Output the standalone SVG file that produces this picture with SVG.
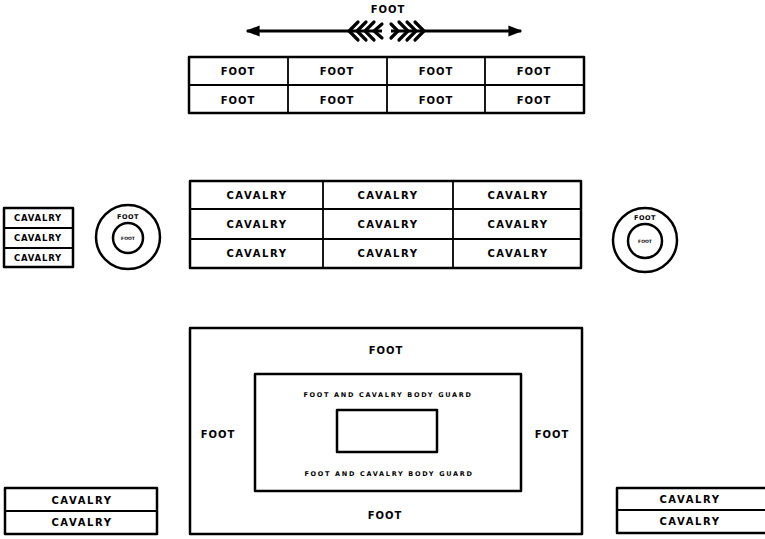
<svg xmlns="http://www.w3.org/2000/svg" width="765" height="539" viewBox="0 0 765 539">
<defs>
<style>
.b{fill:none;stroke:#000;stroke-width:2.5;stroke-linejoin:round}
.d{fill:none;stroke:#000;stroke-width:1.8}
text{font-family:"DejaVu Sans","Liberation Sans",sans-serif;font-weight:bold;fill:#000;text-anchor:middle;dominant-baseline:central}
.f{font-size:10px;letter-spacing:1px}
.c{font-size:10px;letter-spacing:1.6px}
.s{font-size:8.5px;letter-spacing:0.8px}
.g{font-size:6.5px;letter-spacing:1.7px}
.t{font-size:6.5px;letter-spacing:0.5px}
.u{font-size:4.5px}
.ch{fill:none;stroke:#000;stroke-width:3.2;stroke-linecap:round}
.ar{stroke:#000;stroke-width:2.8}
</style>
<marker id="ah" viewBox="0 0 10 10" refX="9" refY="5" markerWidth="5" markerHeight="5" orient="auto-start-reverse" markerUnits="strokeWidth">
<path d="M0,1 L10,5 L0,9 Z" fill="#000"/>
</marker>
</defs>
<rect width="765" height="539" fill="#fff"/>

<g id="connectors">
<line class="ar" x1="247" y1="31" x2="382" y2="31" marker-start="url(#ah)"/>
<line class="ar" x1="391" y1="31" x2="521" y2="31" marker-end="url(#ah)"/>
<g id="chevrons-left">
<path class="ch" d="M358,22 L349,31 L358,40"/>
<path class="ch" d="M366,22 L357,31 L366,40"/>
<path class="ch" d="M374,22 L365,31 L374,40"/>
<path class="ch" d="M382,24 L374,31 L382,38"/>
</g>
<g id="chevrons-right">
<path class="ch" d="M391,24 L398,31 L391,38"/>
<path class="ch" d="M399,22 L408,31 L399,40"/>
<path class="ch" d="M407,22 L416,31 L407,40"/>
<path class="ch" d="M415,22 L424,31 L415,40"/>
</g>
</g>
<text id="top-label" class="f" x="388" y="9">FOOT</text>

<g id="foot-grid">
<rect class="b" x="189" y="57" width="395" height="56"/>
<line class="d" x1="189" y1="85" x2="584" y2="85"/>
<line class="d" x1="288" y1="57" x2="288" y2="113"/>
<line class="d" x1="387" y1="57" x2="387" y2="113"/>
<line class="d" x1="485" y1="57" x2="485" y2="113"/>
<text class="f" x="238" y="71">FOOT</text>
<text class="f" x="337" y="71">FOOT</text>
<text class="f" x="436" y="71">FOOT</text>
<text class="f" x="534" y="71">FOOT</text>
<text class="f" x="238" y="100">FOOT</text>
<text class="f" x="337" y="100">FOOT</text>
<text class="f" x="436" y="100">FOOT</text>
<text class="f" x="534" y="100">FOOT</text>
</g>

<g id="cavalry-grid">
<rect class="b" x="190" y="181" width="391" height="87"/>
<line class="d" x1="190" y1="209" x2="581" y2="209"/>
<line class="d" x1="190" y1="239" x2="581" y2="239"/>
<line class="d" x1="323" y1="181" x2="323" y2="268"/>
<line class="d" x1="453" y1="181" x2="453" y2="268"/>
<text class="c" x="257" y="195">CAVALRY</text>
<text class="c" x="388" y="195">CAVALRY</text>
<text class="c" x="518" y="195">CAVALRY</text>
<text class="c" x="257" y="224">CAVALRY</text>
<text class="c" x="388" y="224">CAVALRY</text>
<text class="c" x="518" y="224">CAVALRY</text>
<text class="c" x="257" y="253">CAVALRY</text>
<text class="c" x="388" y="253">CAVALRY</text>
<text class="c" x="518" y="253">CAVALRY</text>
</g>

<g id="left-cavalry-stack">
<rect class="b" x="4" y="208" width="69" height="59"/>
<line class="d" x1="4" y1="228" x2="73" y2="228"/>
<line class="d" x1="4" y1="248" x2="73" y2="248"/>
<text class="s" x="38" y="218">CAVALRY</text>
<text class="s" x="38" y="238">CAVALRY</text>
<text class="s" x="38" y="258">CAVALRY</text>
</g>

<g id="left-circle">
<circle class="b" cx="128" cy="237" r="32"/>
<circle class="b" cx="128" cy="238" r="15"/>
<text class="t" x="128" y="217">FOOT</text>
<text class="u" x="128" y="238">FOOT</text>
</g>

<g id="right-circle">
<circle class="b" cx="645" cy="240" r="32"/>
<circle class="b" cx="645" cy="241" r="17"/>
<text class="t" x="645" y="218">FOOT</text>
<text class="u" x="645" y="241">FOOT</text>
</g>

<g id="camp">
<rect class="b" x="190" y="328" width="392" height="206"/>
<text class="f" x="386" y="350">FOOT</text>
<text class="f" x="218" y="434">FOOT</text>
<text class="f" x="552" y="434">FOOT</text>
<text class="f" x="385" y="515">FOOT</text>
</g>

<g id="body-guard">
<rect class="b" x="255" y="374" width="266" height="117"/>
<text class="g" x="388" y="395">FOOT AND CAVALRY BODY GUARD</text>
<text class="g" x="389" y="474">FOOT AND CAVALRY BODY GUARD</text>
</g>

<g id="center">
<rect class="b" x="337" y="410" width="100" height="42"/>
</g>

<g id="bottom-left-cavalry">
<rect class="b" x="5" y="488" width="152" height="46"/>
<line class="d" x1="5" y1="511" x2="157" y2="511"/>
<text class="c" x="82" y="500">CAVALRY</text>
<text class="c" x="82" y="522">CAVALRY</text>
</g>

<g id="bottom-right-cavalry">
<path class="b" d="M770,488 L617,488 L617,533 L770,533"/>
<line class="d" x1="617" y1="510" x2="770" y2="510"/>
<text class="c" x="690" y="499">CAVALRY</text>
<text class="c" x="690" y="521">CAVALRY</text>
</g>
</svg>
